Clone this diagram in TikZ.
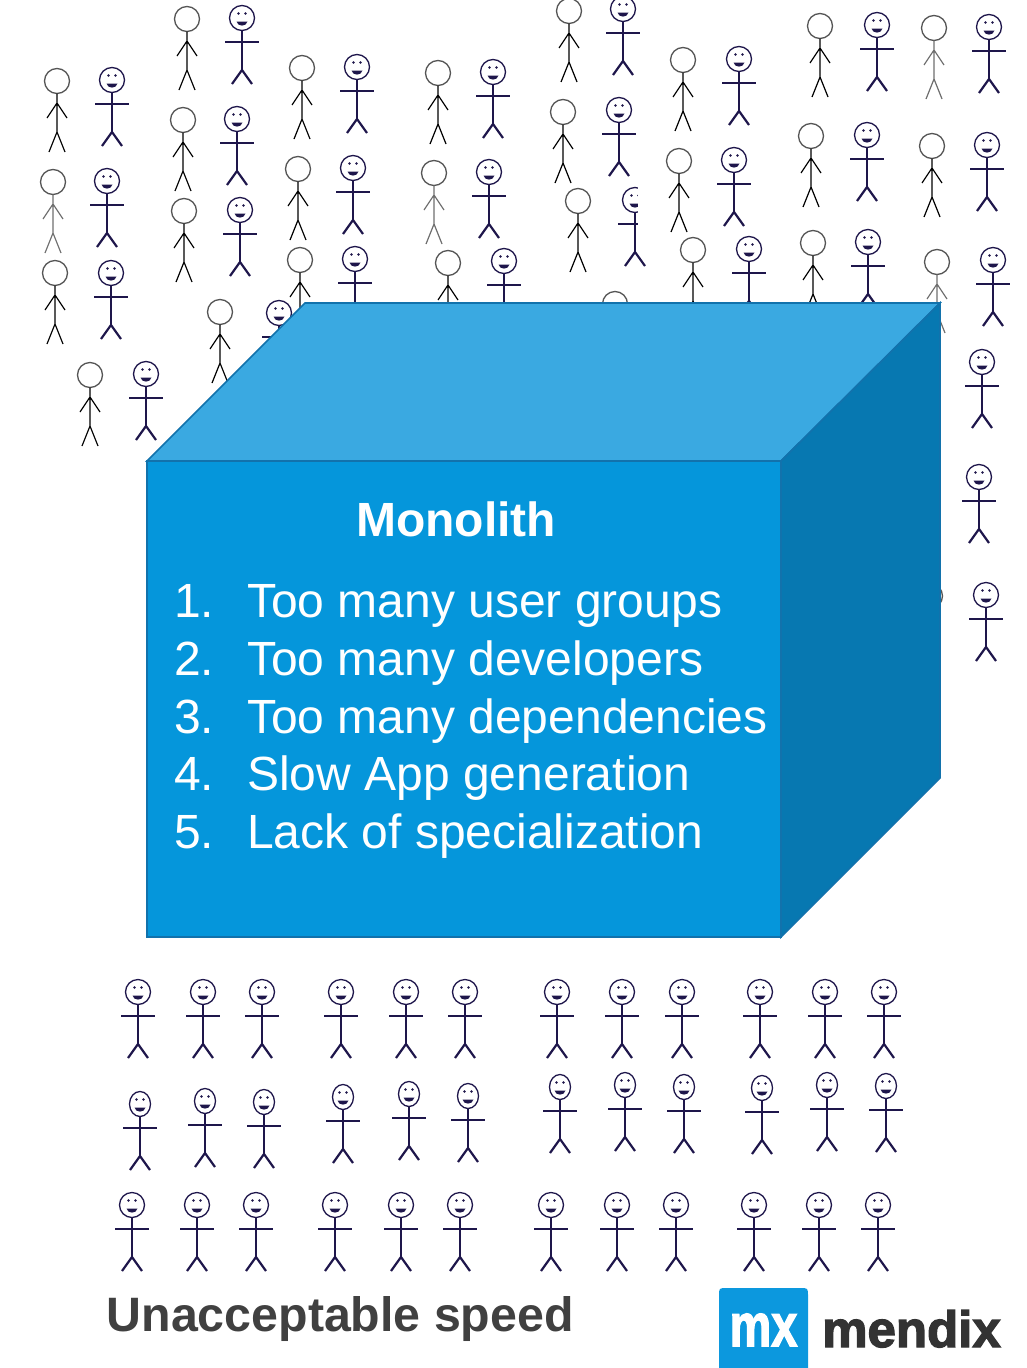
\documentclass[tikz,border=0pt]{standalone}
\usepackage{fontspec}
\setmainfont{Liberation Sans}
\newfontfamily\logofont{Liberation Sans Bold}[FakeBold=2.5]

\definecolor{topblue}{RGB}{58,169,225}
\definecolor{frontblue}{RGB}{5,150,219}
\definecolor{sideblue}{RGB}{7,120,177}
\definecolor{edgeblue}{RGB}{18,114,172}
\definecolor{navy}{RGB}{30,22,75}
\definecolor{headgray}{RGB}{85,85,85}
\definecolor{lightbody}{RGB}{110,110,110}
\definecolor{captiongray}{RGB}{64,64,64}
\definecolor{logoblue}{RGB}{12,152,222}
\definecolor{logotext}{RGB}{51,51,51}

\tikzset{
  % stick figure with plain round head and drooping arms
  pics/plainman/.style={code={
    \draw[headgray, line width=1.3pt] (0,0) circle (12.5);
    \draw[#1, line width=1.2pt] (0,12.5) -- (0,51)
      (-10,37) -- (0,22) -- (10,37)
      (-8,71) -- (0,51) -- (8,71);
  }},
  % smiling stick figure; argument = horizontal head radius
  pics/smileman/.style={code={
    \draw[navy, line width=1.3pt] (0,0) ellipse [x radius=#1, y radius=12.5];
    \fill[navy] (-3.5,-4.5) circle (1.3) (3.5,-4.5) circle (1.3);
    \fill[navy] (-5.5,3.5) .. controls (-4.5,9) and (4.5,9) .. (5.5,3.5) -- cycle;
    \draw[navy, line width=1.6pt] (0,12.5) -- (0,52);
    \draw[navy, line width=2.6pt] (-17,24) -- (17,24);
    \draw[navy, line width=2.2pt] (-10,66) -- (0,52) -- (10,66);
  }},
  cubeface/.style={draw=edgeblue, line width=1.6pt, line join=miter},
  listtext/.style={text=white, inner sep=0pt, font=\fontsize{48}{56}\selectfont},
}

\begin{document}
\begin{tikzpicture}[x=1pt,y=-1pt]
\useasboundingbox (0,0) rectangle (1026,1368);

% crowd above and beside the block
\foreach \px/\py in {57/81,55/273,90/375,187/19,183/120,184/211,220/312,
    302/68,298/169,300/260,438/73,448/263,569/11,563/112,578/201,615/304,
    683/60,679/161,693/250,820/26,811/136,813/243,932/146,930/596}
  \pic at (\px,\py) {plainman=black};
\foreach \px/\py in {53/182,434/173,934/28,937/262}
  \pic at (\px,\py) {plainman=lightbody};
\foreach \px/\py in {112/80,107/181,111/273,146/374,242/18,237/119,240/210,
    279/313,357/67,353/168,355/259,493/72,489/172,504/261,623/9,619/110,
    635/200,739/59,734/160,749/249,877/25,867/135,868/242,989/27,987/145,
    993/260,982/362,979/477,986/595}
  \pic at (\px,\py) {smileman=12.5};
% cropped edge of one figure
\fill[white] (637.5,184) rectangle (656,231);

% crowd below the block
\foreach \px in {138,203,262,341,406,465,557,622,682,760,825,884}
  \pic at (\px,992) {smileman=12.5};
\foreach \px/\py in {140/1104,205/1101,264/1102,343/1097,409/1094,468/1096,
    560/1087,625/1085,684/1087,762/1088,827/1085,886/1086}
  \pic at (\px,\py) {smileman=10.5};
\foreach \px in {132,197,256,335,401,460,551,617,676,754,819,878}
  \pic at (\px,1205) {smileman=12.5};

% the block
\draw[cubeface, fill=topblue] (147,461) -- (305,303) -- (940,303) -- (781,461) -- cycle;
\draw[cubeface, fill=sideblue] (781,461) -- (940,303) -- (940,778) -- (781,937) -- cycle;
\draw[cubeface, fill=frontblue] (147,461) rectangle (781,937);

% labels on the block
\node[listtext, anchor=base] (title) at (456,536) {\bfseries Monolith};
\node[listtext, anchor=base west] (n1) at (174,617) {1.};
\node[listtext, anchor=base west] (t1) at (247,617) {Too many user groups};
\node[listtext, anchor=base west] (n2) at (174,675) {2.};
\node[listtext, anchor=base west] (t2) at (247,675) {Too many developers};
\node[listtext, anchor=base west] (n3) at (174,733) {3.};
\node[listtext, anchor=base west] (t3) at (247,733) {Too many dependencies};
\node[listtext, anchor=base west] (n4) at (174,790) {4.};
\node[listtext, anchor=base west] (t4) at (247,790) {Slow App generation};
\node[listtext, anchor=base west] (n5) at (174,848) {5.};
\node[listtext, anchor=base west] (t5) at (247,848) {Lack of specialization};

% caption
\node[anchor=base west, inner sep=0pt, text=captiongray,
      font=\fontsize{48.3}{56}\selectfont\bfseries] (caption) at (106.5,1331) {Unacceptable speed};

% logo
\fill[logoblue] (719,1368) -- (719,1296) .. controls (719,1288) .. (727,1288)
  -- (800,1288) .. controls (808,1288) .. (808,1296) -- (808,1368) -- cycle;
\node[anchor=base, inner sep=0pt, text=white, font=\fontsize{60}{62}\logofont]
  (mx) at (763.5,1346) {\scalebox{0.78}[1]{mx}};
\node[anchor=base west, inner sep=0pt, text=logotext, font=\fontsize{51}{53}\logofont]
  (brand) at (822,1347) {\scalebox{1.0}[1]{mendix}};
\end{tikzpicture}
\end{document}
